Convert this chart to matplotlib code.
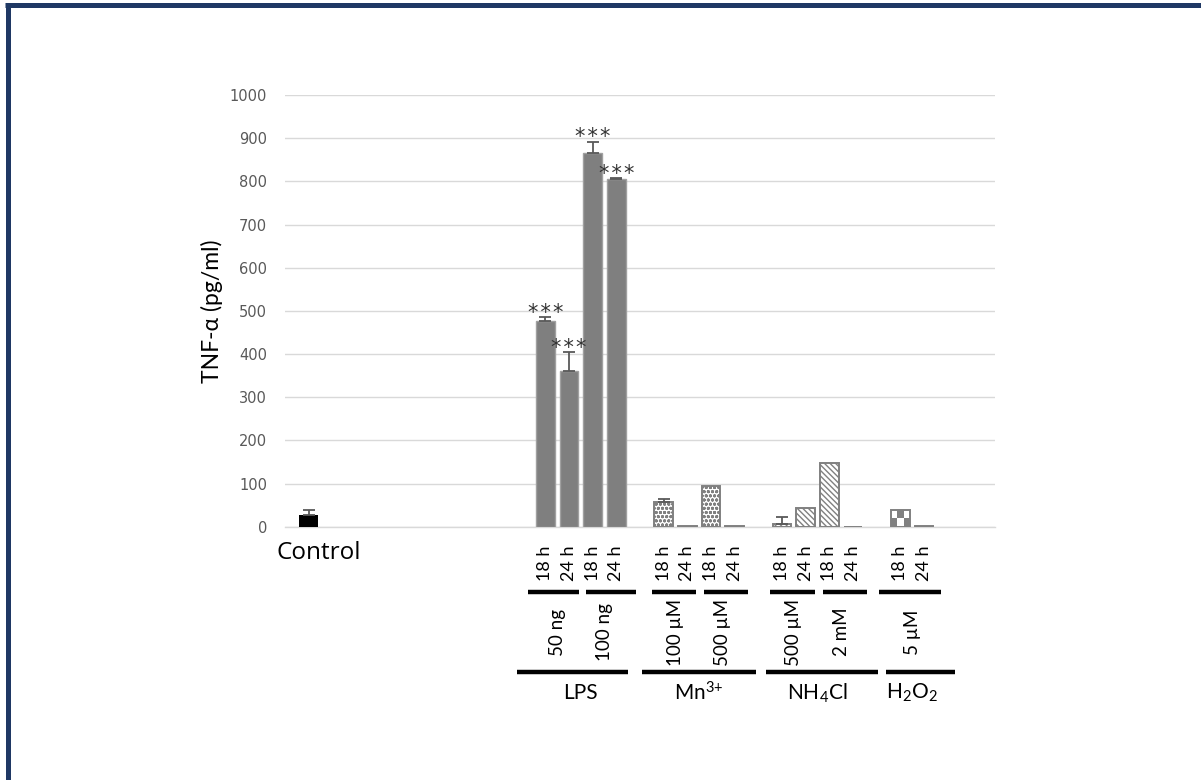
import numpy as np
import matplotlib
matplotlib.use("Agg")
import matplotlib.pyplot as plt
from matplotlib.colors import ListedColormap
from matplotlib.lines import Line2D
from matplotlib.transforms import blended_transform_factory

plt.rcParams["font.family"] = ["Lato", "DejaVu Sans"]
plt.rcParams["mathtext.default"] = "regular"
plt.rcParams["hatch.linewidth"] = 1.0

# ---- data -------------------------------------------------------------
control_label = "Control"
control_value = 26
control_err = 12

hours = ["18 h", "24 h"]

lps_doses = ["50 ng", "100 ng"]
lps_values = [476, 360, 866, 806]
lps_err = [10, 44, 26, 1]
lps_stars = ["***", "***", "***", "***"]

mn_doses = ["100 µM", "500 µM"]
mn_values = [58, 2, 94, 2]
mn_err = [7, 0, 0, 0]

nh4_doses = ["500 µM", "2 mM"]
nh4_values = [7, 43, 147, 0]
nh4_err = [15, 0, 0, 0]

h2o2_doses = ["5 µM"]
h2o2_values = [39, 2]
h2o2_err = [0, 0]

group_names = ["LPS", "Mn$^{3{+}}$", "NH$_4$Cl", "H$_2$O$_2$"]
y_ticks = [0, 100, 200, 300, 400, 500, 600, 700, 800, 900, 1000]
y_label = "TNF-α (pg/ml)"

# ---- layout -----------------------------------------------------------
W, H = 1201, 780
fig = plt.figure(figsize=(W / 100, H / 100), dpi=100)
ax = fig.add_axes([285 / W, 1 - 526.7 / H, 710 / W, 431.7 / H])

def fy(px):
    """figure-fraction y from a pixel row measured from the top"""
    return 1 - px / H

tr = blended_transform_factory(ax.transData, fig.transFigure)

BAR_W = 0.8
GRID = "#d9d9d9"
TXT = "#595959"

control_x = 0
group_starts = [10, 15, 20, 25]
group_values = [lps_values, mn_values, nh4_values, h2o2_values]
group_errs = [lps_err, mn_err, nh4_err, h2o2_err]
group_doses = [lps_doses, mn_doses, nh4_doses, h2o2_doses]

# bracket overhang (in bar slots) left/right of the bars they span
dose_pads = [[(0.72, 0.42), (0.28, 0.85)],
             [(0.5, 0.35), (0.3, 0.55)],
             [(0.5, 0.38), (0.25, 0.6)],
             [(0.9, 0.72)]]
group_pads = [(1.2, 0.5), (0.93, 0.9), (0.68, 1.05), (0.6, 1.3)]

ax.set_xlim(-1, 29)
ax.set_ylim(0, 1000)
ax.set_yticks(y_ticks)
ax.set_xticks([])
ax.tick_params(axis="y", length=0, pad=13, labelsize=10.5, labelcolor=TXT)
for lab in ax.get_yticklabels():
    lab.set_family("DejaVu Sans")
for s in ("top", "right", "left"):
    ax.spines[s].set_visible(False)
ax.spines["bottom"].set_color(GRID)
ax.spines["bottom"].set_linewidth(1.0)
ax.yaxis.grid(True, color=GRID, linewidth=1.0)
ax.set_axisbelow(True)
ax.set_ylabel(y_label, fontsize=16.5, color="#000000", labelpad=5)

def add_err(xs, vals, errs):
    for x, v, e in zip(xs, vals, errs):
        if e > 0:
            ax.errorbar(x, v, yerr=[[0], [e]], fmt="none", ecolor="#595959",
                        elinewidth=1.3, capsize=4.2, capthick=1.3, zorder=4)

# control
ax.bar(control_x, control_value, width=BAR_W, color="#000000", zorder=3)
add_err([control_x], [control_value], [control_err])

# LPS
lps_x = np.arange(len(lps_values)) + group_starts[0]
ax.bar(lps_x, lps_values, width=BAR_W, color="#7f7f7f", edgecolor="#a0a0a0",
       linewidth=1.0, zorder=3)
add_err(lps_x, lps_values, lps_err)
for x, v, e, s in zip(lps_x, lps_values, lps_err, lps_stars):
    ax.annotate("\u200a".join(s), (x, v + e), xytext=(0, 3),
                textcoords="offset points", ha="center", va="center",
                fontsize=15, color="#333333", family="DejaVu Sans")

# Mn3+
mn_x = np.arange(len(mn_values)) + group_starts[1]
ax.bar(mn_x, mn_values, width=BAR_W, color="white", edgecolor="#808080",
       hatch="oooo", linewidth=1.4, zorder=3)
add_err(mn_x, mn_values, mn_err)

# NH4Cl
nh4_x = np.arange(len(nh4_values)) + group_starts[2]
ax.bar(nh4_x, nh4_values, width=BAR_W, color="white", edgecolor="#808080",
       hatch="\\\\\\\\\\\\", linewidth=1.4, zorder=3)
add_err(nh4_x, nh4_values, nh4_err)

# H2O2 with a coarse checker fill
h2o2_x = np.arange(len(h2o2_values)) + group_starts[3]
h_bars = ax.bar(h2o2_x, h2o2_values, width=BAR_W, color="none",
                edgecolor="#808080", linewidth=1.4, zorder=3)
checker = ListedColormap(["white", "#808080"])
for b in h_bars:
    if b.get_height() > 5:
        x0, y0, w, h = b.get_x(), b.get_y(), b.get_width(), b.get_height()
        cells = np.indices((2, 3)).sum(axis=0) % 2
        im = ax.imshow(cells, cmap=checker, extent=(x0, x0 + w, y0, y0 + h),
                       aspect="auto", interpolation="nearest", zorder=2.9)
        im.set_clip_path(b)
    else:
        b.set_facecolor("#808080")
add_err(h2o2_x, h2o2_values, h2o2_err)
ax.set_xlim(-1, 29)
ax.set_ylim(0, 1000)

# ---- category labels --------------------------------------------------
ax.text(control_x + 0.42, fy(553), control_label, transform=tr, ha="center",
        va="center", fontsize=17.5, color="#000000", family="Open Sans")

HOUR_Y, LINE1_Y, DOSE_Y, LINE2_Y, GROUP_Y = 563, 592, 632, 672, 693
line_kw = dict(transform=tr, color="#000000", linewidth=3.2,
               solid_capstyle="butt", clip_on=False)

for gi, (start, vals, doses, name) in enumerate(
        zip(group_starts, group_values, group_doses, group_names)):
    xs = np.arange(len(vals)) + start
    for i, x in enumerate(xs):
        ax.text(x, fy(HOUR_Y), hours[i % 2], transform=tr, rotation=90,
                ha="center", va="center", fontsize=13, color="#000000")
    for di, dose in enumerate(doses):
        a, b = xs[2 * di], xs[2 * di + 1]
        pl, pr = dose_pads[gi][di]
        ax.add_line(Line2D([a - pl, b + pr], [fy(LINE1_Y)] * 2, **line_kw))
        ax.text((a + b) / 2, fy(DOSE_Y), dose, transform=tr, rotation=90,
                ha="center", va="center", fontsize=13.5, color="#000000")
    gl, gr = group_pads[gi]
    ax.add_line(Line2D([xs[0] - gl, xs[-1] + gr], [fy(LINE2_Y)] * 2, **line_kw))
    ax.text((xs[0] + xs[-1]) / 2, fy(GROUP_Y), name, transform=tr,
            ha="center", va="center", fontsize=15, color="#000000")

# ---- frame ------------------------------------------------------------
frame = "#1f3864"
fig.add_artist(Line2D([7.5 / W, 7.5 / W], [0, fy(3)], transform=fig.transFigure,
                      color=frame, linewidth=3.6, solid_capstyle="butt"))
fig.add_artist(Line2D([5 / W, 1], [fy(5), fy(5)], transform=fig.transFigure,
                      color=frame, linewidth=3.6, solid_capstyle="butt"))

fig.savefig("out.png", dpi=100)
